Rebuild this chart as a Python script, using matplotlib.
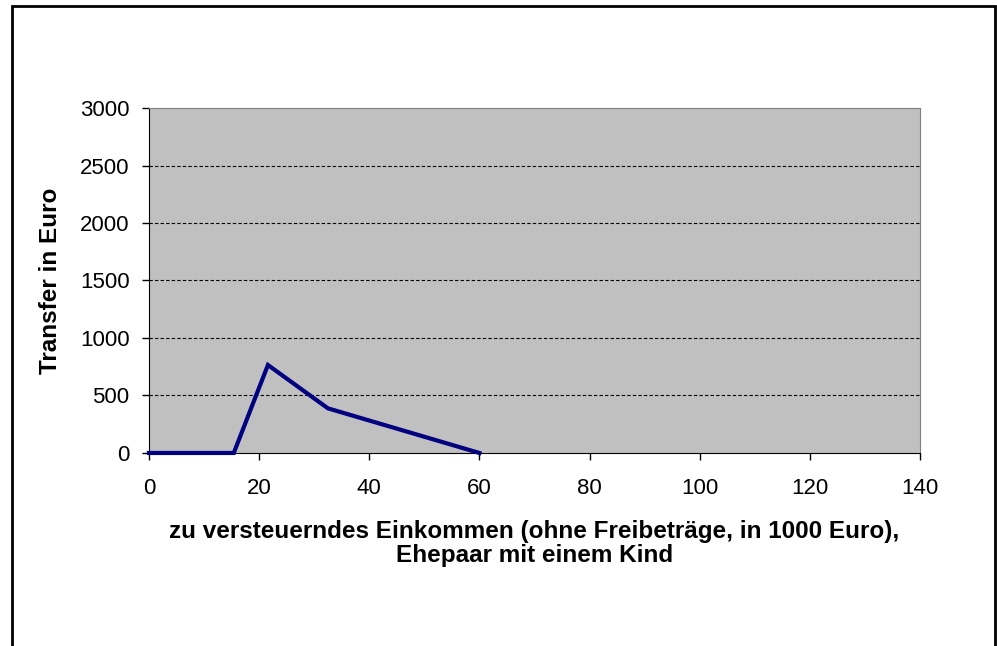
import matplotlib.pyplot as plt
import matplotlib.patches as mpatches

# Data
income = [0, 15.4, 21.6, 32.5, 60]
transfer = [0, 0, 765, 388, 0]
x_ticks = [0, 20, 40, 60, 80, 100, 120, 140]
y_ticks = [0, 500, 1000, 1500, 2000, 2500, 3000]

plt.rcParams['font.family'] = ['Liberation Sans', 'DejaVu Sans']

fig = plt.figure(figsize=(9.97, 6.46), dpi=100)
ax = fig.add_axes([0.1494, 0.2988, 0.7734, 0.534])

# outer chart frame (bottom edge is outside the image)
frame = mpatches.Rectangle((12 / 997, -0.05), (995 - 12) / 997, 1 - 6 / 646 + 0.05,
                           transform=fig.transFigure, fill=False,
                           edgecolor='black', linewidth=2)
fig.add_artist(frame)

ax.set_facecolor('#c0c0c0')
for y in y_ticks[1:-1]:
    ax.axhline(y, color='black', linestyle=(0, (3, 2)), linewidth=0.8, zorder=1)

ax.plot(income, transfer, color='#000080', linewidth=3, zorder=3,
        solid_joinstyle='miter', clip_on=False)

ax.set_xlim(0, 140)
ax.set_ylim(0, 3000)
ax.set_xticks(x_ticks)
ax.set_yticks(y_ticks)
ax.tick_params(direction='out', length=5, width=1, labelsize=16, pad=9)
ax.tick_params(axis='x', pad=13)

ax.spines['left'].set_color('black')
ax.spines['bottom'].set_color('black')
ax.spines['top'].set_color('#808080')
ax.spines['right'].set_color('#808080')

ax.set_ylabel('Transfer in Euro', fontsize=17.5, fontweight='bold', labelpad=13)
ax.set_xlabel('zu versteuerndes Einkommen (ohne Freibeträge, in 1000 Euro),\nEhepaar mit einem Kind',
              fontsize=17.5, fontweight='bold', labelpad=15, linespacing=1.05)

fig.savefig('out.png', dpi=100, facecolor='white')
